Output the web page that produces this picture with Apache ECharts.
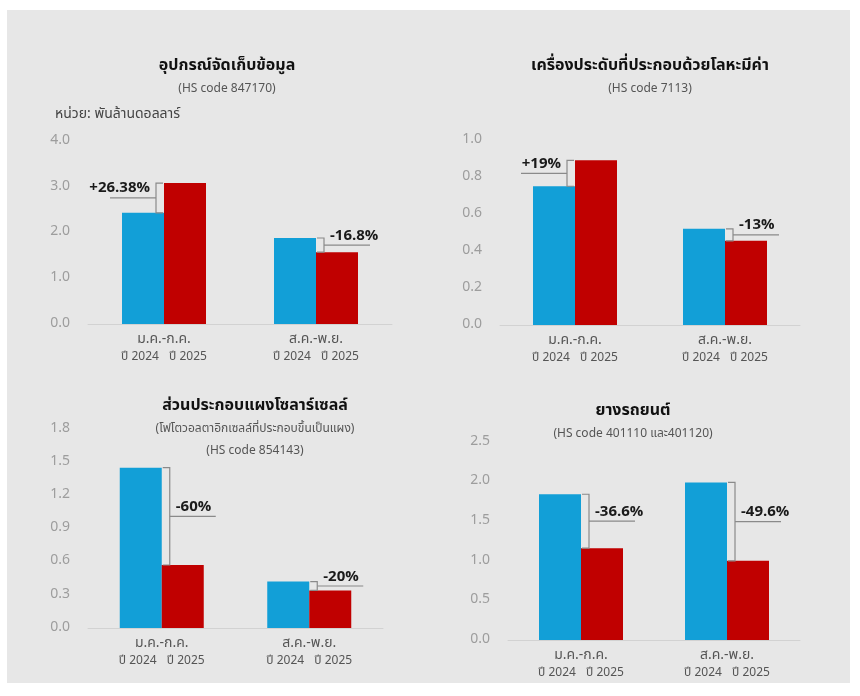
<!DOCTYPE html>
<html>
<head>
<meta charset="utf-8">
<script src="https://cdn.jsdelivr.net/npm/echarts@6/dist/echarts.min.js"></script>
<style>
  html, body { margin: 0; padding: 0; background: #fff; }
  #chart { width: 860px; height: 696px; }
</style>
</head>
<body>
<div id="chart"></div>
<script>
const FONT = '"Noto Sans Thai", "Noto Sans", "DejaVu Sans", sans-serif';

// categories and tick labels
const categories = ['ม.ค.-ก.ค.', 'ส.ค.-พ.ย.'];
const yearLabels = ['ปี 2024', 'ปี 2025'];
const unitText = 'หน่วย: พันล้านดอลลาร์';

// panel titles
const titles = [
  'อุปกรณ์จัดเก็บข้อมูล',
  'เครื่องประดับที่ประกอบด้วยโลหะมีค่า',
  'ส่วนประกอบแผงโซลาร์เซลล์',
  'ยางรถยนต์'
];
const subtitles = [
  '(HS code 847170)',
  '(HS code 7113)',
  '(โฟโตวอลตาอิกเซลล์ที่ประกอบขึ้นเป็นแผง)\n(HS code 854143)',
  '(HS code 401110 และ401120)'
];

// series values (billion USD)
const storage2024 = [2.43, 1.88];
const storage2025 = [3.08, 1.57];
const storageChange = ['+26.38%', '-16.8%'];

const jewelry2024 = [0.75, 0.52];
const jewelry2025 = [0.89, 0.455];
const jewelryChange = ['+19%', '-13%'];

const solar2024 = [1.45, 0.42];
const solar2025 = [0.57, 0.34];
const solarChange = ['-60%', '-20%'];

const tyre2024 = [1.84, 1.99];
const tyre2025 = [1.16, 1.0];
const tyreChange = ['-36.6%', '-49.6%'];

// y axis ranges
const yMax = [4, 1, 1.8, 2.5];
const yStep = [1, 0.2, 0.3, 0.5];

const panels = [
  { a: storage2024, b: storage2025, chg: storageChange },
  { a: jewelry2024, b: jewelry2025, chg: jewelryChange },
  { a: solar2024, b: solar2025, chg: solarChange },
  { a: tyre2024, b: tyre2025, chg: tyreChange }
];

// layout (pixels)
const grids = [
  { left: 88, top: 141, width: 304, height: 183 },
  { left: 500, top: 140, width: 300, height: 185 },
  { left: 88, top: 429, width: 295, height: 199 },
  { left: 508, top: 442, width: 292, height: 198 }
];
const titlePos = [
  { x: 222, top: 54 },
  { x: 645, top: 54 },
  { x: 250, top: 394 },
  { x: 628, top: 399 }
];

const BLUE = '#129fd7';
const RED = '#c00000';

function bracketRenderer(chg) {
  return function (params, api) {
    const i = api.value(0);
    const p1 = api.coord([i, api.value(1)]);
    const p2 = api.coord([i, api.value(2)]);
    const cx = p1[0];
    const side = api.value(2) > api.value(1) ? -1 : 1;
    const bx = cx + side * 8;
    const top = Math.min(p1[1], p2[1]);
    const bot = Math.max(p1[1], p2[1]);
    const mid = (top + bot) / 2;
    const tick = -side * 7;
    const lineStyle = { stroke: '#8a8a8a', lineWidth: 1.2, fill: null };
    return {
      type: 'group',
      children: [
        {
          type: 'polyline',
          shape: { points: [[bx + tick, top], [bx, top], [bx, bot], [bx + tick, bot]] },
          style: lineStyle
        },
        {
          type: 'line',
          shape: { x1: bx, y1: mid, x2: bx + side * 46, y2: mid },
          style: lineStyle
        },
        {
          type: 'text',
          x: bx + side * 6,
          y: mid - 1,
          style: {
            text: chg[params.dataIndex],
            fill: '#1a1a1a',
            font: 'bold 15px ' + FONT,
            textAlign: side > 0 ? 'left' : 'right',
            textVerticalAlign: 'bottom'
          }
        }
      ]
    };
  };
}

const option = {
  backgroundColor: '#ffffff',
  animation: false,
  graphic: [
    { type: 'rect', shape: { x: 7, y: 10, width: 843, height: 673 }, style: { fill: '#e7e7e7' }, z: -10 }
  ],
  title: titles.map((t, k) => ({
    text: t,
    subtext: subtitles[k],
    left: titlePos[k].x,
    top: titlePos[k].top,
    textAlign: 'center',
    itemGap: 4,
    textStyle: { fontFamily: FONT, fontSize: 16, fontWeight: 'bold', color: '#111' },
    subtextStyle: { fontFamily: FONT, fontSize: 12, color: '#555', lineHeight: 22 }
  })).concat([{
    text: unitText,
    left: 50,
    top: 103,
    textStyle: { fontFamily: FONT, fontSize: 14, fontWeight: 'normal', color: '#444' }
  }]),
  grid: grids,
  xAxis: grids.map((g, k) => ({
    type: 'category',
    gridIndex: k,
    data: categories,
    axisLine: { lineStyle: { color: '#d2d2d2', width: 1 } },
    axisTick: { show: false },
    axisLabel: {
      margin: 8,
      formatter: function (v) { return '{c|' + v + '}\n{y|' + yearLabels[0] + '}{y|' + yearLabels[1] + '}'; },
      rich: {
        c: { fontFamily: FONT, fontSize: 14, color: '#555', lineHeight: 17, align: 'center' },
        y: { fontFamily: FONT, fontSize: 12, color: '#555', lineHeight: 17, width: 48, align: 'center' }
      }
    }
  })),
  yAxis: grids.map((g, k) => ({
    type: 'value',
    gridIndex: k,
    min: 0,
    max: yMax[k],
    interval: yStep[k],
    splitLine: { show: false },
    axisLine: { show: false },
    axisTick: { show: false },
    axisLabel: {
      margin: 18,
      color: '#9d9d9d',
      fontFamily: FONT,
      fontSize: 14,
      formatter: function (v) { return v.toFixed(1); }
    }
  })),
  series: []
};

panels.forEach((p, k) => {
  option.series.push({
    type: 'bar', xAxisIndex: k, yAxisIndex: k, data: p.a,
    barWidth: 42, barGap: '0%', itemStyle: { color: BLUE }
  });
  option.series.push({
    type: 'bar', xAxisIndex: k, yAxisIndex: k, data: p.b,
    barWidth: 42, barGap: '0%', itemStyle: { color: RED }
  });
  option.series.push({
    type: 'custom', xAxisIndex: k, yAxisIndex: k,
    encode: { x: 0, y: [1, 2] },
    data: p.a.map((v, i) => [i, v, p.b[i]]),
    renderItem: bracketRenderer(p.chg),
    z: 5
  });
});

const myChart = echarts.init(document.getElementById('chart'));
myChart.setOption(option);
</script>
</body>
</html>
